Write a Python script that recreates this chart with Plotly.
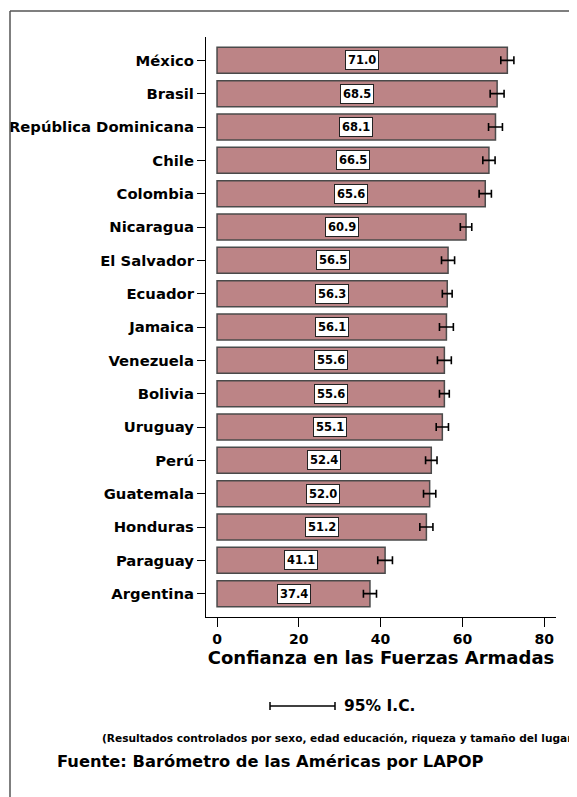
import plotly.graph_objects as go

countries = ["México", "Brasil", "República Dominicana", "Chile", "Colombia",
             "Nicaragua", "El Salvador", "Ecuador", "Jamaica", "Venezuela",
             "Bolivia", "Uruguay", "Perú", "Guatemala", "Honduras",
             "Paraguay", "Argentina"]
values = [71.0, 68.5, 68.1, 66.5, 65.6, 60.9, 56.5, 56.3, 56.1, 55.6,
          55.6, 55.1, 52.4, 52.0, 51.2, 41.1, 37.4]
ci_half = [1.6, 1.7, 1.7, 1.5, 1.5, 1.4, 1.6, 1.2, 1.7, 1.7,
           1.2, 1.5, 1.4, 1.5, 1.6, 1.8, 1.6]
x_ticks = [0, 20, 40, 60, 80]

# the page body has an 8px margin; work in page pixels and shift
OFF = 8
W, H = 577 - OFF, 797 - OFF
L, R, T, B = 206 - OFF, 21, 37 - OFF, 180
PW, PH = W - L - R, H - T - B

def px(x):
    return (x - OFF - L) / PW

def py(y):
    return (H - B - (y - OFF)) / PH

FONT = "DejaVu Sans, Verdana, sans-serif"
pos = list(range(len(countries)))

fig = go.Figure()
fig.add_trace(go.Bar(
    x=values, y=pos, orientation="h", width=0.78,
    marker=dict(color="#BC8486", line=dict(color="#4a4a4a", width=1.5)),
    error_x=dict(type="data", array=ci_half, symmetric=True,
                 color="black", thickness=1.6, width=4),
    hoverinfo="skip", showlegend=False,
))

annotations = []
for i, v in enumerate(values):
    annotations.append(dict(
        x=v / 2, y=i, xref="x", yref="y", text=f"<b>{v:.1f}</b>",
        showarrow=False, bgcolor="white", bordercolor="#222", borderwidth=1,
        borderpad=2, font=dict(family=FONT, size=11.5, color="black"),
    ))

annotations.append(dict(x=px(342), y=py(706), xref="paper", yref="paper",
                        text="<b>95% I.C.</b>", showarrow=False, xanchor="left",
                        yanchor="middle", font=dict(family=FONT, size=15.5, color="black")))
annotations.append(dict(x=px(100), y=py(738), xref="paper", yref="paper",
                        text="<b>(Resultados controlados por sexo, edad educación, riqueza y tamaño del lugar)</b>",
                        showarrow=False, xanchor="left", yanchor="middle",
                        font=dict(family=FONT, size=10.6, color="black")))
annotations.append(dict(x=px(270), y=py(761), xref="paper", yref="paper",
                        text="<b>Fuente: Barómetro de las Américas por LAPOP</b>",
                        showarrow=False, xanchor="center", yanchor="middle",
                        font=dict(family=FONT, size=16.3, color="black")))

shapes = [
    dict(type="line", xref="paper", yref="paper", x0=px(10), y0=py(800), x1=px(10), y1=py(11),
         line=dict(color="#555", width=1.5)),
    dict(type="line", xref="paper", yref="paper", x0=px(10), y0=py(11), x1=px(580), y1=py(11),
         line=dict(color="#555", width=1.5)),
    dict(type="line", xref="paper", yref="paper", x0=px(270), y0=py(706), x1=px(335), y1=py(706),
         line=dict(color="black", width=1.5)),
    dict(type="line", xref="paper", yref="paper", x0=px(270), y0=py(702), x1=px(270), y1=py(710),
         line=dict(color="black", width=1.5)),
    dict(type="line", xref="paper", yref="paper", x0=px(335), y0=py(702), x1=px(335), y1=py(710),
         line=dict(color="black", width=1.5)),
]

fig.update_layout(
    width=W, height=H, margin=dict(l=L, r=R, t=T, b=B, autoexpand=False),
    paper_bgcolor="white", plot_bgcolor="white",
    font=dict(family=FONT, color="black"),
    annotations=annotations, shapes=shapes, bargap=0.2,
    xaxis=dict(range=[-2.7, 82.9], tickvals=x_ticks,
               ticktext=[f"<b>{t}</b>" for t in x_ticks],
               ticks="outside", ticklen=9, tickwidth=1.2, tickcolor="black",
               showline=True, linecolor="black", linewidth=1.2,
               showgrid=False, zeroline=False,
               tickfont=dict(family=FONT, size=14, color="black"),
               title=dict(text="<b>Confianza en las Fuerzas Armadas</b>", standoff=2,
                          font=dict(family=FONT, size=18, color="black"))),
    yaxis=dict(range=[16.7, -0.7], tickvals=pos,
               ticktext=[f"<b>{c}</b>" for c in countries],
               ticks="outside", ticklen=8, tickwidth=1.2, tickcolor="black",
               showline=True, linecolor="black", linewidth=1.2,
               showgrid=False, zeroline=False,
               tickfont=dict(family=FONT, size=14.8, color="black")),
)

fig.write_html("out.html")
